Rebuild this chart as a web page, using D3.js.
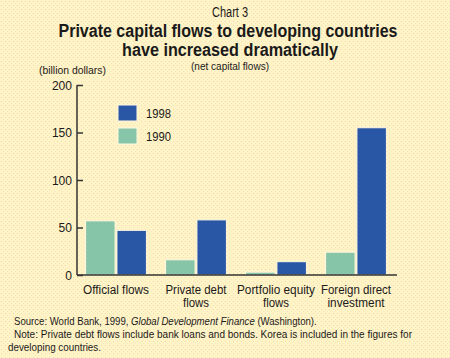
<!DOCTYPE html>
<html><head><meta charset="utf-8">
<script src="https://cdn.jsdelivr.net/npm/d3@7"></script>
<style>
body{margin:0;background:#FFF4C6;}
svg{display:block;}
text{font-family:"Liberation Sans","Arial",sans-serif;fill:#1a1a1a;}
</style></head>
<body><svg id="c" width="450" height="358"></svg>
<script>
const categories = [["Official flows"], ["Private debt", "flows"], ["Portfolio equity", "flows"], ["Foreign direct", "investment"]];
const series = ["1990", "1998"];
const values1990 = [57, 16, 3, 24];
const values1998 = [47, 58, 14, 155];
const yTicks = [0, 50, 100, 150, 200];

const svg = d3.select("#c");
const W = 450, H = 358;
const colors = {"1990": "#86C5A7", "1998": "#2A56A6"};

// condensed look: squeeze text horizontally to a target width
function fit(sel, w){ sel.attr("textLength", w).attr("lengthAdjust","spacingAndGlyphs"); return sel; }

// background speckle
const defs = svg.append("defs");
const pat = defs.append("pattern").attr("id","dots").attr("width",4).attr("height",4).attr("patternUnits","userSpaceOnUse");
pat.append("rect").attr("width",4).attr("height",4).attr("fill","#FFF4C6");
pat.append("rect").attr("x",1).attr("y",1).attr("width",1).attr("height",1).attr("fill","#F6D8B8");
pat.append("rect").attr("x",3).attr("y",3).attr("width",1).attr("height",1).attr("fill","#F9E4BE");
svg.append("rect").attr("width",W).attr("height",H).attr("fill","url(#dots)");

const x0 = 77, x1 = 397, yTop = 85, yBot = 275;
const x = d3.scaleBand().domain(d3.range(categories.length)).range([x0-1, x1-1]).paddingInner(0.24).paddingOuter(0.12);
const xs = d3.scaleBand().domain(series).range([0, x.bandwidth()]).paddingInner(0.06);
const y = d3.scaleLinear().domain([0, 200]).range([yBot, yTop]);

// titles
fit(svg.append("text").attr("x",230).attr("y",17).attr("text-anchor","middle").style("font-size","14px").text("Chart 3"), 36);
fit(svg.append("text").attr("x",228).attr("y",37).attr("text-anchor","middle").style("font-size","18px").style("font-weight","bold").text("Private capital flows to developing countries"), 339);
fit(svg.append("text").attr("x",230).attr("y",56).attr("text-anchor","middle").style("font-size","18px").style("font-weight","bold").text("have increased dramatically"), 216);
fit(svg.append("text").attr("x",230).attr("y",69.5).attr("text-anchor","middle").style("font-size","10px").text("(net capital flows)"), 78);
fit(svg.append("text").attr("x",72.5).attr("y",74).attr("text-anchor","middle").style("font-size","10.5px").text("(billion dollars)"), 67);

// bars
const data = categories.map((c,i)=>({i, v:{"1990":values1990[i], "1998":values1998[i]}}));
const g = svg.append("g");
data.forEach(d=>{
  series.forEach(s=>{
    g.append("rect")
      .attr("x", x(d.i)+xs(s))
      .attr("y", y(d.v[s]))
      .attr("width", xs.bandwidth())
      .attr("height", yBot - y(d.v[s]))
      .attr("fill", colors[s])
      .attr("stroke","#FFF8E0").attr("stroke-width",1);
  });
});

// y axis
const yAxis = d3.axisRight(y).tickValues(yTicks).tickSize(6).tickFormat("");
const ya = svg.append("g").attr("transform",`translate(${x0},0)`).call(yAxis);
ya.select(".domain").attr("stroke","#333").attr("stroke-width",1.5).attr("d",`M0,${yTop}V${yBot}`);
ya.selectAll(".tick line").attr("stroke","#333").attr("stroke-width",1.5);
yTicks.forEach(t=>{
  const tw = String(t).length * 6.7;
  fit(svg.append("text").attr("x",72).attr("y",y(t)+4.5).attr("text-anchor","end").style("font-size","12.5px").text(t), tw);
});
// baseline
svg.append("line").attr("x1",x0).attr("x2",x1).attr("y1",yBot).attr("y2",yBot).attr("stroke","#333").attr("stroke-width",1.5);

// x labels (target widths)
const labelW = [[66],[61,26],[78,26],[70,57]];
categories.forEach((c,i)=>{
  const cx = x(i)+x.bandwidth()/2;
  c.forEach((line,j)=>{
    fit(svg.append("text").attr("x",cx).attr("y",294+j*13).attr("text-anchor","middle").style("font-size","12.5px").text(line), labelW[i][j]);
  });
});

// legend
const leg = [["1998",105,118],["1990",128,141]];
leg.forEach(([s,yy,tb])=>{
  svg.append("rect").attr("x",118).attr("y",yy).attr("width",19).attr("height",16).attr("fill",colors[s]).attr("stroke","#FFF8E0");
  fit(svg.append("text").attr("x",146).attr("y",tb).style("font-size","12.5px").text(s), 25);
});

// footnotes
const srcG = svg.append("g");
const src = srcG.append("text").attr("x",0).attr("y",0).style("font-size","11px");
src.append("tspan").text("Source: World Bank, 1999, ");
src.append("tspan").style("font-style","italic").text("Global Development Finance");
src.append("tspan").text(" (Washington).");
const natW = src.node().getComputedTextLength();
srcG.attr("transform", `translate(14,325) scale(${303/natW},1)`);
fit(svg.append("text").attr("x",14).attr("y",338).style("font-size","11px").text("Note: Private debt flows include bank loans and bonds. Korea is included in the figures for"), 398);
fit(svg.append("text").attr("x",8).attr("y",351).style("font-size","11px").text("developing countries."), 93);
</script></body></html>
